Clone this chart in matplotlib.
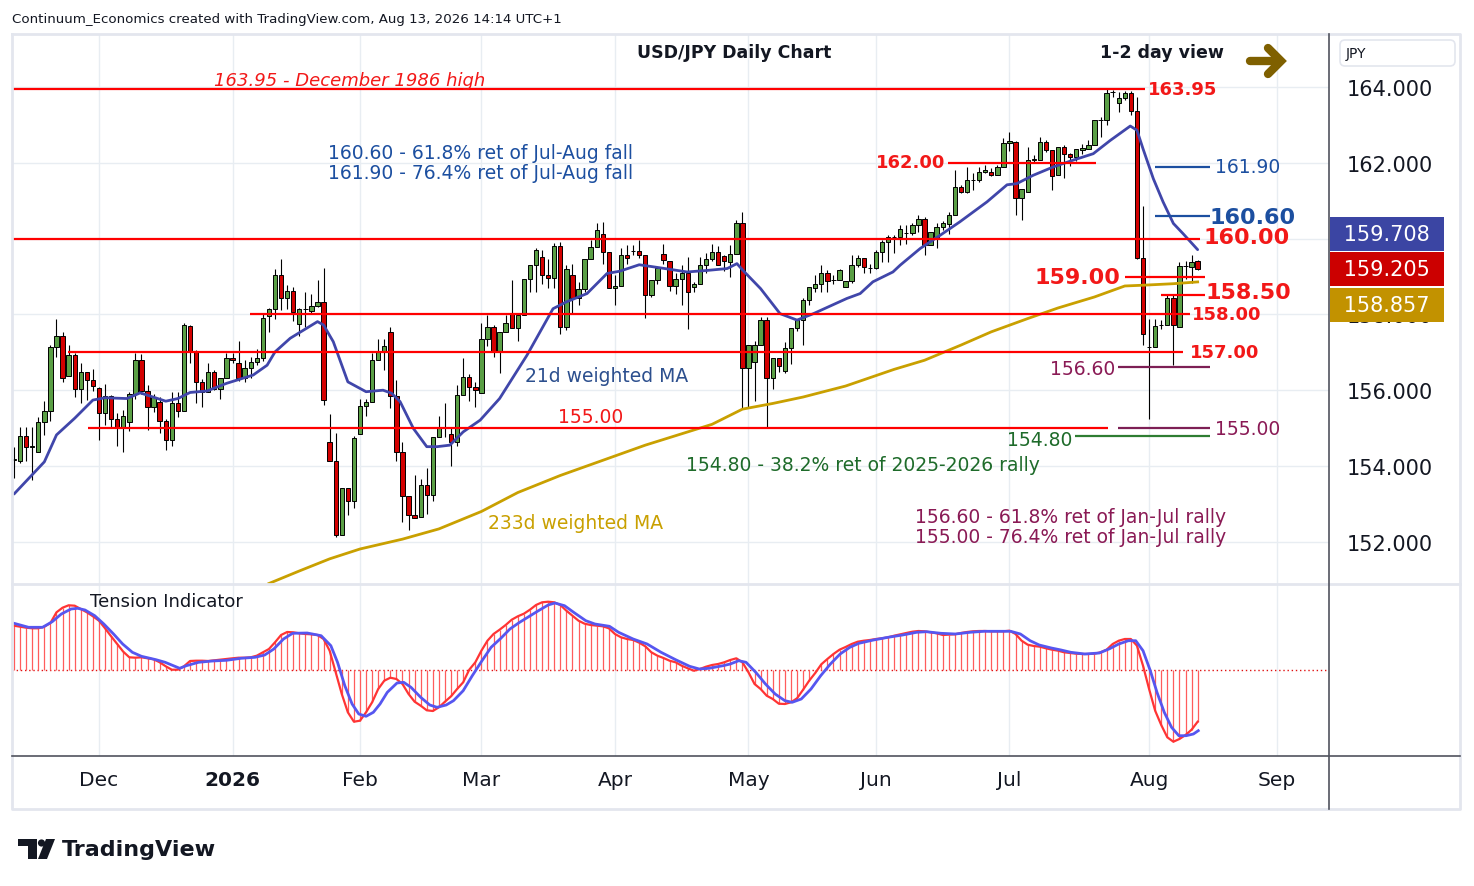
import matplotlib
matplotlib.use("Agg")
import matplotlib.pyplot as plt
from matplotlib.patches import Polygon, Circle, FancyBboxPatch
import numpy as np
import pandas as pd

# ---------------- data ----------------
holidays = pd.to_datetime(["2025-12-25", "2026-01-01"])
days = pd.bdate_range("2025-11-11", "2026-08-13")
days = days[~days.isin(holidays)]

opens = [
    154.16, 154.14, 154.80, 154.51, 154.38, 155.17, 155.46, 157.13, 157.44, 156.38,
    156.93, 156.03, 156.47, 156.27, 156.05, 155.41, 155.85, 155.23, 155.02, 155.17,
    155.90, 156.81, 155.99, 155.56, 155.68, 155.19, 154.68, 155.65, 155.46, 157.70,
    157.00, 156.21, 155.96, 156.49, 156.03, 156.33, 156.86, 156.72, 156.33, 156.59,
    156.75, 156.84, 157.95, 158.13, 159.04, 158.42, 158.62, 157.75, 158.13, 158.09,
    158.23, 158.33, 154.64, 154.14, 152.18, 153.41, 153.08, 154.84, 155.59, 155.70,
    156.81, 157.00, 157.54, 155.85, 154.38, 153.22, 152.72, 152.66, 153.50, 153.23,
    154.77, 155.04, 154.84, 154.64, 155.87, 156.36, 156.09, 155.93, 157.34, 157.67,
    157.04, 157.54, 158.04, 157.64, 157.99, 158.94, 159.31, 159.52, 159.05, 158.96,
    159.81, 157.67, 159.05, 158.42, 158.68, 159.45, 159.78, 160.13, 159.65, 158.70,
    158.75, 159.56, 159.67, 159.67, 159.56, 158.50, 158.92, 159.60, 159.41, 158.75,
    158.94, 159.10, 158.72, 158.81, 159.31, 159.45, 159.65, 159.54, 159.38, 159.60,
    160.42, 156.59, 156.75, 157.20, 157.85, 156.32, 156.85, 156.50, 157.12, 157.63,
    157.85, 158.37, 158.70, 158.79, 159.08, 158.92, 158.92, 158.72, 158.87, 159.30,
    159.49, 159.23, 159.23, 159.65, 159.91, 160.04, 160.03, 160.16, 160.16, 160.35,
    160.53, 159.84, 160.04, 160.31, 160.38, 160.63, 161.36, 161.23, 161.54, 161.54,
    161.76, 161.76, 161.69, 161.89, 162.51, 162.55, 161.07, 161.23, 162.07, 162.07,
    162.55, 162.33, 161.67, 162.42, 162.24, 162.15, 162.35, 162.37, 162.48, 163.12,
    163.12, 163.87, 163.59, 163.72, 163.83, 163.37, 159.49, 157.14, 157.14, 157.71,
    157.73, 158.42, 157.67, 159.28, 159.25, 159.40]
highs = [
    154.51, 155.04, 155.04, 155.02, 155.28, 155.72, 157.19, 157.89, 157.54, 157.19,
    156.97, 156.73, 156.47, 156.56, 156.09, 156.16, 155.87, 155.39, 155.48, 155.94,
    156.99, 156.96, 156.14, 155.89, 155.81, 155.25, 155.96, 155.96, 157.76, 157.72,
    157.06, 156.30, 156.73, 156.53, 156.33, 156.97, 156.97, 157.31, 156.79, 156.88,
    157.09, 158.03, 158.18, 159.19, 159.45, 158.77, 158.71, 158.16, 158.60, 158.53,
    158.91, 159.23, 155.36, 154.88, 153.41, 153.41, 154.80, 155.78, 155.78, 156.97,
    157.34, 157.34, 157.66, 156.28, 154.64, 153.22, 153.76, 153.67, 153.94, 154.77,
    155.33, 155.65, 155.04, 156.14, 156.84, 156.43, 156.22, 157.76, 157.98, 157.72,
    157.54, 157.99, 158.90, 158.02, 158.94, 159.31, 159.74, 159.69, 159.47, 159.89,
    159.91, 159.30, 159.34, 158.86, 159.47, 159.96, 160.42, 160.44, 159.65, 159.03,
    159.74, 159.82, 159.82, 159.96, 159.58, 158.92, 159.23, 159.85, 159.41, 159.10,
    159.31, 159.52, 158.86, 159.52, 159.61, 159.85, 159.80, 159.58, 159.82, 160.48,
    160.70, 157.20, 157.31, 157.94, 157.94, 156.85, 156.85, 157.28, 157.63, 157.88,
    158.42, 158.72, 159.05, 159.30, 159.17, 159.04, 159.21, 158.87, 159.56, 159.56,
    159.49, 159.34, 159.69, 159.96, 160.09, 160.09, 160.35, 160.35, 160.40, 160.62,
    160.57, 160.18, 160.42, 160.46, 160.70, 161.80, 161.42, 161.89, 161.74, 161.89,
    161.93, 161.85, 161.95, 162.66, 162.82, 162.57, 161.32, 162.42, 162.20, 162.68,
    162.59, 162.33, 162.42, 162.46, 162.26, 162.37, 162.50, 162.59, 163.12, 163.21,
    163.96, 163.91, 163.87, 163.89, 163.89, 163.74, 160.86, 157.89, 157.89, 157.84,
    158.55, 158.55, 159.38, 159.40, 159.56, 159.44]
lows = [
    153.69, 154.07, 154.13, 153.63, 154.38, 154.82, 155.19, 156.88, 156.21, 156.38,
    155.81, 155.65, 155.74, 155.99, 154.68, 155.08, 155.01, 154.53, 154.38, 154.92,
    155.78, 155.90, 154.95, 155.43, 154.86, 154.42, 154.53, 155.30, 155.46, 156.71,
    155.65, 155.55, 155.96, 156.00, 155.77, 156.33, 156.72, 156.24, 156.22, 156.31,
    156.66, 156.77, 157.54, 157.89, 158.11, 158.15, 157.82, 157.44, 157.66, 158.00,
    158.20, 155.61, 154.14, 152.13, 152.18, 152.70, 152.88, 154.84, 155.33, 155.70,
    156.81, 156.53, 155.54, 154.12, 152.53, 152.31, 152.62, 152.66, 152.73, 153.07,
    154.77, 154.77, 154.00, 154.53, 155.87, 155.72, 155.56, 155.93, 157.17, 156.88,
    156.46, 157.54, 157.64, 157.29, 157.99, 158.59, 158.59, 158.79, 158.70, 158.70,
    157.49, 157.58, 158.02, 158.26, 158.58, 159.45, 159.78, 159.34, 158.70, 158.25,
    158.75, 159.32, 159.56, 159.49, 157.91, 158.46, 158.81, 159.32, 158.61, 158.55,
    158.26, 157.61, 158.58, 158.81, 159.10, 159.41, 159.30, 159.14, 158.98, 159.60,
    155.53, 155.53, 155.72, 157.20, 155.00, 156.02, 156.48, 156.46, 156.70, 157.57,
    157.19, 158.26, 158.60, 158.58, 158.60, 158.79, 158.90, 158.72, 158.84, 159.26,
    159.10, 159.10, 159.21, 159.38, 159.38, 159.61, 159.82, 159.87, 160.09, 160.18,
    159.56, 159.84, 159.75, 160.22, 160.11, 160.63, 161.21, 161.21, 161.28, 161.50,
    161.72, 161.65, 161.69, 161.89, 162.30, 160.62, 160.48, 161.23, 162.02, 162.07,
    162.28, 161.28, 161.67, 161.60, 161.92, 162.04, 162.24, 162.37, 162.46, 162.68,
    162.99, 163.74, 163.34, 163.65, 163.25, 159.47, 157.19, 155.25, 157.14, 157.62,
    157.71, 156.66, 157.67, 158.94, 158.84, 159.17]
closes = [
    154.18, 154.80, 154.51, 154.52, 155.17, 155.46, 157.13, 157.44, 156.33, 156.93,
    156.03, 156.47, 156.27, 156.12, 155.41, 155.85, 155.23, 155.02, 155.33, 155.90,
    156.81, 155.99, 155.56, 155.81, 155.19, 154.68, 155.65, 155.46, 157.72, 157.00,
    156.21, 155.96, 156.49, 156.03, 156.33, 156.86, 156.80, 156.33, 156.59, 156.75,
    156.84, 157.91, 158.13, 159.04, 158.42, 158.62, 158.07, 158.13, 158.13, 158.23,
    158.33, 155.74, 154.14, 152.18, 153.41, 153.08, 154.75, 155.59, 155.70, 156.81,
    157.00, 157.17, 155.85, 154.38, 153.22, 152.71, 152.64, 153.50, 153.23, 154.77,
    155.01, 155.04, 154.64, 155.87, 156.36, 156.09, 156.00, 157.34, 157.67, 157.04,
    157.54, 157.76, 157.64, 157.99, 158.94, 159.31, 159.71, 159.05, 158.96, 159.81,
    157.67, 159.21, 158.42, 158.68, 159.45, 159.78, 160.22, 159.65, 158.70, 158.75,
    159.56, 159.49, 159.67, 159.56, 158.52, 158.92, 159.23, 159.43, 158.75, 158.94,
    159.10, 158.58, 158.81, 159.31, 159.45, 159.65, 159.30, 159.41, 159.60, 160.42,
    156.59, 157.20, 157.20, 157.85, 156.32, 156.85, 156.64, 157.12, 157.63, 157.85,
    158.37, 158.72, 158.79, 159.08, 158.87, 158.92, 159.18, 158.87, 159.30, 159.49,
    159.25, 159.23, 159.65, 159.91, 160.04, 160.04, 160.26, 160.16, 160.35, 160.53,
    159.84, 160.18, 160.31, 160.40, 160.63, 161.36, 161.23, 161.54, 161.54, 161.76,
    161.80, 161.67, 161.89, 162.51, 162.57, 161.07, 161.32, 162.07, 162.11, 162.55,
    162.33, 161.65, 162.42, 162.24, 162.15, 162.37, 162.39, 162.48, 163.12, 163.12,
    163.83, 163.87, 163.72, 163.83, 163.37, 159.49, 157.47, 157.14, 157.70, 157.71,
    158.42, 157.73, 159.28, 159.28, 159.38, 159.205]

# 21d weighted MA, read at bar positions
ma21_idx = [0, 5, 7, 10, 13, 15, 18.6, 20.8, 25, 27, 29, 31.8, 35, 39.4, 41.7, 43,
            45.5, 50, 51, 52.6, 55, 58, 60.8, 62.2, 63.6, 65.8, 68, 69.7, 71.8, 74,
            76.8, 80, 84.5, 88.8, 91, 94.4, 97.7, 99.8, 103, 106.4, 110.9, 114.2,
            117.5, 119.1, 120.1, 123, 126.2, 129, 131.7, 137.2, 139.4, 141.5, 144.8,
            146, 149.3, 152.6, 155.8, 160.3, 163.6, 165.2, 167.9, 171.2, 174.5,
            177.8, 180.6, 183.9, 185, 186, 187.7, 189.3, 191, 192.6, 195]
ma21_val = [153.26, 154.11, 154.82, 155.26, 155.74, 155.80, 155.78, 155.93, 155.71,
            155.78, 155.94, 155.98, 156.18, 156.40, 156.66, 157.01, 157.37, 157.81,
            157.72, 157.28, 156.22, 155.96, 156.00, 155.92, 155.70, 154.99, 154.51,
            154.51, 154.55, 154.90, 155.21, 155.78, 156.92, 158.15, 158.33, 158.55,
            159.08, 159.14, 159.31, 159.23, 159.12, 159.16, 159.21, 159.34, 159.16,
            158.68, 158.02, 157.85, 158.02, 158.42, 158.55, 158.86, 159.12, 159.30,
            159.74, 160.09, 160.44, 160.97, 161.42, 161.45, 161.67, 161.89, 162.07,
            162.24, 162.59, 162.97, 162.86, 162.37, 161.58, 160.97, 160.40, 160.13,
            159.708]

# 233d weighted MA
ma233_idx = [42, 47, 52, 57, 64, 70, 77, 83, 90, 97, 104, 110, 115, 120, 125, 130,
             137, 145, 150, 156, 161, 167, 172, 178, 183, 186, 191, 195]
ma233_val = [150.90, 151.23, 151.55, 151.81, 152.07, 152.34, 152.80, 153.30, 153.75,
             154.15, 154.55, 154.85, 155.10, 155.50, 155.65, 155.82, 156.11, 156.55,
             156.79, 157.19, 157.54, 157.89, 158.17, 158.46, 158.75, 158.77, 158.81,
             158.857]

# Tension indicator (histogram / fast line), one value per bar
tension = [
    4.43, 4.33, 4.23, 4.17, 4.17, 4.33, 4.70, 5.77, 6.23, 6.47,
    6.43, 6.10, 5.77, 5.37, 4.93, 4.17, 3.37, 2.60, 1.83, 1.27,
    1.23, 1.27, 1.17, 1.07, 0.77, 0.37, 0.03, 0.03, 0.37, 0.90,
    0.93, 0.93, 0.90, 0.97, 1.03, 1.10, 1.17, 1.23, 1.23, 1.27,
    1.43, 1.77, 2.10, 2.77, 3.50, 3.80, 3.77, 3.67, 3.60, 3.57,
    3.50, 3.10, 1.93, -0.23, -2.40, -4.23, -5.17, -5.07, -4.23, -3.23,
    -1.90, -1.07, -0.77, -0.90, -1.40, -2.40, -3.17, -3.57, -4.03, -4.10,
    -3.73, -3.17, -2.63, -1.90, -1.23, 0.03, 0.77, 1.93, 2.93, 3.60,
    4.03, 4.50, 5.03, 5.37, 5.63, 6.03, 6.50, 6.77, 6.83, 6.77,
    6.50, 5.93, 5.43, 4.93, 4.63, 4.50, 4.43, 4.37, 4.17, 3.60,
    3.27, 3.10, 3.00, 2.73, 2.37, 1.77, 1.43, 1.20, 0.93, 0.77,
    0.43, 0.17, -0.07, 0.10, 0.33, 0.50, 0.60, 0.77, 1.00, 1.17,
    0.77, -0.23, -1.40, -1.90, -2.57, -2.90, -3.37, -3.40, -3.23, -2.83,
    -1.97, -1.07, -0.30, 0.57, 1.10, 1.60, 2.03, 2.30, 2.60, 2.83,
    2.93, 3.00, 3.10, 3.17, 3.27, 3.43, 3.57, 3.70, 3.83, 3.90,
    3.87, 3.77, 3.67, 3.50, 3.53, 3.57, 3.70, 3.80, 3.87, 3.90,
    3.90, 3.87, 3.87, 3.87, 3.93, 3.60, 2.93, 2.53, 2.40, 2.33,
    2.17, 2.03, 1.93, 1.77, 1.70, 1.63, 1.60, 1.60, 1.63, 1.77,
    2.03, 2.60, 2.93, 3.10, 3.10, 2.43, 0.43, -1.90, -4.07, -5.50,
    -6.73, -7.17, -6.90, -6.50, -5.97, -5.17]

# signal (blue) line of the tension indicator
signal_idx = [0, 2.4, 4.7, 6.3, 7.8, 9.4, 10.5, 11.7, 13.3, 14.8, 16.4, 17.9, 19.5,
              21, 23.4, 24.9, 26.5, 27.3, 28.4, 30.4, 32.7, 35, 37.4, 39.7, 41.3,
              42.8, 44.4, 45.9, 48.3, 50.6, 52.2, 53.3, 54.5, 55.7, 56.8, 58, 59.2,
              60.3, 61.5, 63.1, 64.2, 65.4, 67, 68.5, 69.7, 71.2, 72.4, 74, 75.5,
              77.1, 78.6, 80.2, 81.7, 83.3, 84.9, 86.4, 88, 89.1, 90.7, 92.2, 94.2,
              95.7, 98.1, 99.6, 102, 104.3, 106.6, 109, 111.3, 112.9, 114.5, 116.8,
              118, 119.4, 120.6, 122.2, 123.8, 125.4, 127, 128.2, 129.7, 131.3, 132.9,
              134.5, 136.1, 137.7, 139.2, 141.6, 144, 146.4, 148.7, 150.3, 152.7,
              155.1, 157.5, 159.8, 162.2, 164.2, 165.8, 167.4, 168.9, 170.9, 172.5,
              174.1, 176.4, 178.8, 180.4, 182, 183.6, 184.8, 186, 187.2, 188.3, 189.5,
              190.7, 191.9, 193.1, 194.3, 195.1]
signal_val = [4.67, 4.27, 4.27, 4.83, 5.60, 6.10, 6.17, 6.00, 5.43, 4.60, 3.60, 2.60,
              1.77, 1.37, 1.03, 0.77, 0.37, 0.17, 0.43, 0.77, 0.90, 0.97, 1.17, 1.27,
              1.50, 2.10, 3.10, 3.67, 3.70, 3.43, 2.43, 0.77, -1.57, -3.40, -4.40,
              -4.63, -4.23, -3.40, -2.23, -1.30, -1.23, -1.73, -2.73, -3.50, -3.73,
              -3.50, -3.07, -2.07, -0.57, 0.93, 2.27, 3.17, 4.10, 4.77, 5.37, 5.93,
              6.50, 6.70, 6.43, 5.77, 4.93, 4.60, 4.37, 3.77, 3.10, 2.60, 1.77, 1.03,
              0.37, 0.10, 0.17, 0.43, 0.60, 0.93, 0.77, -0.23, -1.40, -2.40, -3.07,
              -3.23, -2.90, -1.90, -0.57, 0.60, 1.60, 2.27, 2.67, 3.00, 3.27, 3.50,
              3.77, 3.83, 3.67, 3.60, 3.77, 3.87, 3.87, 3.87, 3.60, 2.93, 2.50, 2.20,
              2.00, 1.77, 1.60, 1.70, 2.10, 2.60, 2.93, 2.93, 1.93, -0.07, -2.23,
              -4.23, -5.73, -6.57, -6.57, -6.40, -6.07]

month_keys = [(2025, 12), (2026, 1), (2026, 2), (2026, 3), (2026, 4),
              (2026, 5), (2026, 6), (2026, 7), (2026, 8), (2026, 9)]
month_names = ["Dec", "2026", "Feb", "Mar", "Apr", "May", "Jun", "Jul", "Aug", "Sep"]
price_ticks = [152, 154, 156, 158, 160, 162, 164]
price_labels = ["152.000", "154.000", "156.000", "158.000", "", "162.000", "164.000"]

# horizontal levels: price, start pixel x, end pixel x, colour
red_levels = [163.95, 160.00, 158.00, 157.00, 155.00, 162.00, 159.00, 158.50]
red_x0 = [12, 12, 250, 68, 88, 948, 1125, 1161]
red_x1 = [1145, 1200, 1190, 1183, 1108, 1096, 1205, 1205]
other_levels = [161.90, 160.60, 156.60, 155.00, 154.80]
other_x0 = [1155, 1155, 1118, 1118, 1075]
other_x1 = [1210, 1210, 1210, 1210, 1210]
other_cols = ["#1c4fa0", "#1c4fa0", "#7d1f55", "#7d1f55", "#2e7d32"]

last_close = closes[-1]
last_ma21 = ma21_val[-1]
last_ma233 = ma233_val[-1]

# ---------------- layout helpers ----------------
W, H = 1474, 887
X0, DX = 14.0, 6.07          # pixel x of first bar, pixel step per bar
def bx(px):
    return (px - X0) / DX
def py(p):
    return 164 - (p - 88) / 37.9

RED = "#ff0000"
LBLRED = "#f21818"
BLUE_T = "#1c4fa0"
PURP = "#8a1a55"
GREEN_T = "#1e6b2a"
GOLD = "#c9a000"
MABLUE = "#4046aa"
GRID = "#e8edf2"

fig = plt.figure(figsize=(W / 100, H / 100), dpi=100)
fig.patch.set_facecolor("white")

ax = fig.add_axes([12 / W, 1 - 585 / H, 1317 / W, 550 / H])
axi = fig.add_axes([12 / W, 1 - 757 / H, 1317 / W, 172 / H])

n = len(closes)
idx = np.arange(n)
o = np.array(opens); h = np.array(highs); l = np.array(lows); c = np.array(closes)

# month tick positions from the trading calendar
all_days = pd.bdate_range("2025-11-11", "2026-09-30")
all_days = all_days[~all_days.isin(holidays)]
pos = pd.Series(np.arange(len(all_days)), index=all_days)
first_bar = pos.groupby([all_days.year, all_days.month]).min()
month_pos = [first_bar[k] for k in month_keys]

for a in (ax, axi):
    a.set_xlim(bx(12), bx(1329))
    for s in a.spines.values():
        s.set_visible(False)
    for mp in month_pos:
        a.axvline(mp, color=GRID, lw=1.0, zorder=0)

ax.set_ylim(py(585), py(35))
for t in price_ticks:
    ax.axhline(t, color=GRID, lw=1.0, zorder=0)

# candles
up = c >= o
ax.vlines(idx, l, h, color="black", lw=0.8, zorder=2)
ax.bar(idx[up], (c - o)[up], bottom=o[up], width=0.72, color="#5a9f45",
       edgecolor="black", linewidth=0.7, zorder=3)
ax.bar(idx[~up], (c - o)[~up], bottom=o[~up], width=0.72, color="#d30000",
       edgecolor="black", linewidth=0.7, zorder=3)

# moving averages
ax.plot(ma21_idx, ma21_val, color=MABLUE, lw=2.0, zorder=4, solid_capstyle="round")
ax.plot(ma233_idx, ma233_val, color=GOLD, lw=2.0, zorder=4)

# levels
for p, a0, a1 in zip(red_levels, red_x0, red_x1):
    ax.hlines(p, bx(a0), bx(a1), color=RED, lw=1.6, zorder=5)
for p, a0, a1, col in zip(other_levels, other_x0, other_x1, other_cols):
    ax.hlines(p, bx(a0), bx(a1), color=col, lw=1.6, zorder=5)

# ---------------- annotations ----------------
def label(px, pyy, s, col, size=13.5, ha="left", weight="normal", style="normal"):
    ax.text(bx(px), py(pyy), s, color=col, fontsize=size, ha=ha, va="center",
            fontweight=weight, fontstyle=style, zorder=6)

label(734, 53, "USD/JPY Daily Chart", "#131722", 12.5, "center", "bold")
label(1162, 53, "1-2 day view", "#131722", 12.5, "center", "bold")
label(350, 81, "163.95 - December 1986 high", LBLRED, 13, "center", style="italic")
label(1148, 90, "163.95", LBLRED, 13, weight="bold")
label(328, 153, "160.60 - 61.8% ret of Jul-Aug fall", BLUE_T)
label(328, 173, "161.90 - 76.4% ret of Jul-Aug fall", BLUE_T)
label(945, 163, "162.00", LBLRED, 13, "right", "bold")
label(1215, 167, "161.90", BLUE_T, 13.5)
label(1210, 218, "160.60", BLUE_T, 16, weight="bold")
label(1203, 238, "160.00", LBLRED, 16, weight="bold")
label(1120, 278, "159.00", LBLRED, 16, "right", "bold")
label(1205, 293, "158.50", LBLRED, 16, weight="bold")
label(1192, 315, "158.00", LBLRED, 13, weight="bold")
label(1190, 353, "157.00", LBLRED, 13, weight="bold")
label(1115, 369, "156.60", PURP, 13.5, "right")
label(1215, 430, "155.00", PURP, 13.5)
label(1072, 441, "154.80", GREEN_T, 13.5, "right")
label(591, 418, "155.00", LBLRED, 13.5, "center")
label(525, 377, "21d weighted MA", "#2c4f8e")
label(686, 466, "154.80 - 38.2% ret of 2025-2026 rally", GREEN_T)
label(488, 523, "233d weighted MA", GOLD)
label(1226, 517, "156.60 - 61.8% ret of Jan-Jul rally", PURP, 13.5, "right")
label(1226, 537, "155.00 - 76.4% ret of Jan-Jul rally", PURP, 13.5, "right")

# right price scale
ax.yaxis.tick_right()
ax.set_yticks(price_ticks)
ax.set_yticklabels(price_labels)
ax.tick_params(axis="y", length=0, pad=13, labelsize=15, labelcolor="#131722")
ax.set_xticks([])

for val, dy, col in [(last_ma21, 11.3, "#3b45a3"), (last_close, 0, "#cc0000"),
                     (last_ma233, -16.6, "#c29200")]:
    ax.annotate(f" {val:.3f} ", xy=(1.0, val), xycoords=("axes fraction", "data"),
                xytext=(41.8, dy), textcoords="offset points", ha="center", va="center",
                fontsize=15, color="white", zorder=20, annotation_clip=False,
                bbox=dict(boxstyle="square,pad=0.34", fc=col, ec="none"))

# ---------------- tension indicator ----------------
axi.set_ylim(-8.6, 8.6)
axi.vlines(idx, 0, tension, color="#ff5c5c", lw=0.9, zorder=2)
axi.plot(idx, tension, color="#ff3434", lw=1.6, zorder=3)
axi.plot(signal_idx, signal_val, color="#5656f0", lw=2.0, zorder=4)
axi.axhline(0, color="#e01010", lw=1.0, ls=(0, (1, 2)), zorder=1)
axi.text(bx(90), 6.9, "Tension Indicator", fontsize=13, color="#131722",
         va="center", ha="left", zorder=6)
axi.set_yticks([])
axi.set_xticks(month_pos)
axi.set_xticklabels(month_names)
axi.tick_params(axis="x", length=0, pad=10, labelsize=14.5, labelcolor="#131722")
for tl in axi.get_xticklabels():
    if tl.get_text() == "2026":
        tl.set_fontweight("bold")

# ---------------- frame, header, logo ----------------
ov = fig.add_axes([0, 0, 1, 1], zorder=30)
ov.set_xlim(0, W); ov.set_ylim(H, 0); ov.axis("off")
ov.plot([12, 1460, 1460, 12, 12], [35, 35, 810, 810, 35], color="#e3e6ee", lw=2)
ov.plot([12, 1460], [585, 585], color="#e3e6ee", lw=2)
ov.plot([12, 1460], [757, 757], color="#50535e", lw=1.2)
ov.plot([1329, 1329], [35, 810], color="#50535e", lw=1.2)
ov.add_patch(FancyBboxPatch((1340, 41), 115, 26, boxstyle="round,pad=0,rounding_size=5",
                            fc="white", ec="#e3e6ee", lw=1.2))
ov.text(1346, 54, "JPY", fontsize=10, va="center", color="#131722")

# arrow
acol = "#7f6000"
ov.plot([1250, 1280], [62, 62], color=acol, lw=6, solid_capstyle="round")
ov.plot([1268, 1281, 1268], [49, 62, 75], color=acol, lw=6,
        solid_capstyle="round", solid_joinstyle="miter")

ov.text(12, 19, "Continuum_Economics created with TradingView.com, Aug 13, 2026 14:14 UTC+1",
        fontsize=9.6, va="center", ha="left", color="#131722")

# TradingView logo
ov.add_patch(Polygon([[18, 840], [37, 840], [37, 860], [28, 860], [28, 847], [18, 847]],
                     closed=True, fc="#131722", ec="none"))
ov.add_patch(Circle((41.5, 844), 3.6, fc="#131722", ec="none"))
ov.add_patch(Polygon([[46, 840], [55, 840], [47, 860], [38, 860]], closed=True,
                     fc="#131722", ec="none"))
ov.text(62, 850, "TradingView", fontsize=16, fontweight="bold", va="center",
        ha="left", color="#131722")

fig.savefig("out.png", dpi=100)
